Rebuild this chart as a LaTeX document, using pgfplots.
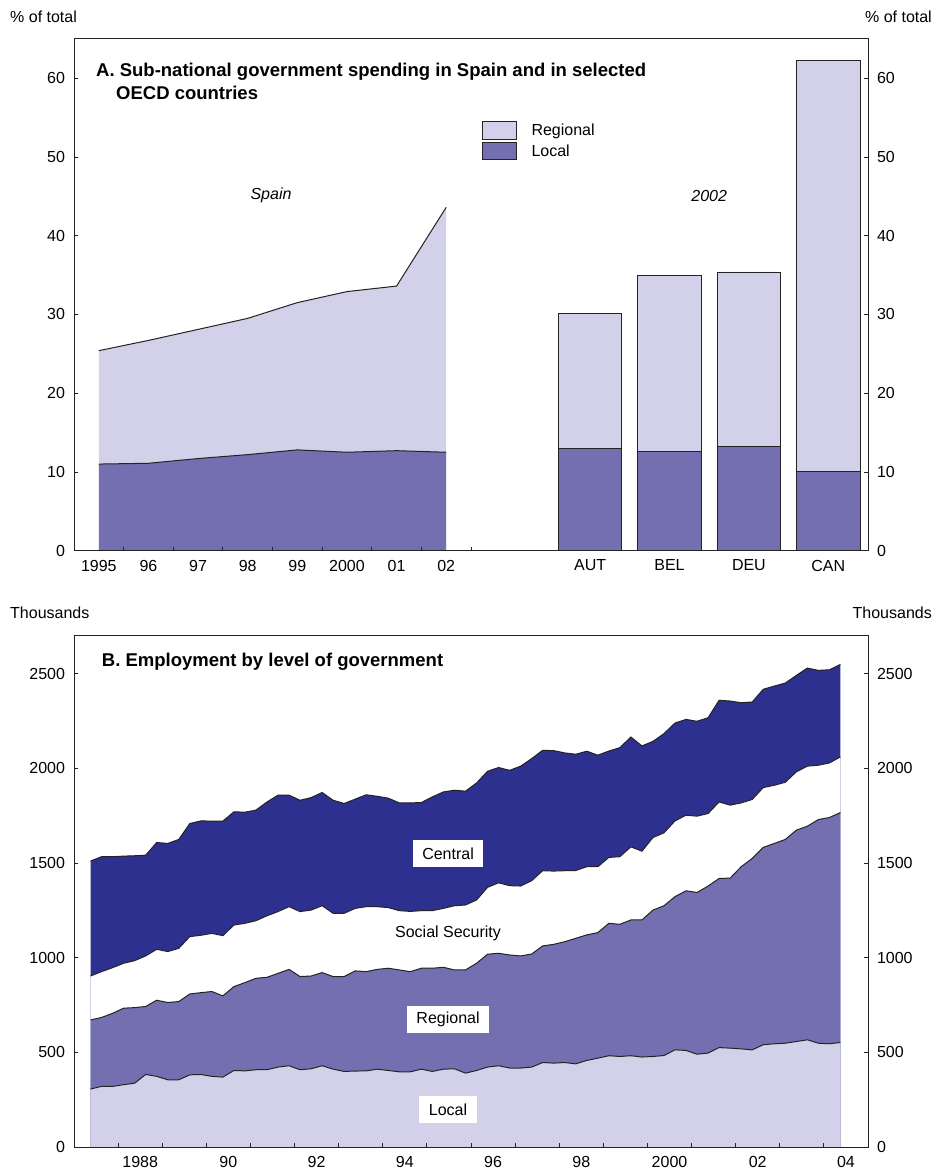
\documentclass[border=0pt]{standalone}
\usepackage{pgfplots}
\pgfplotsset{compat=1.18}
\usepackage{pgfplotstable}
\usepackage{fontspec}
\setmainfont{Liberation Sans}
\definecolor{lav}{RGB}{211,209,233}
\definecolor{purp}{RGB}{116,111,176}
\definecolor{navy}{RGB}{45,48,143}
\definecolor{edge}{RGB}{35,35,35}
\newcommand{\tfont}{\fontsize{16}{19}\selectfont}
\newcommand{\hfont}{\fontsize{18.5}{22}\selectfont\bfseries}

\pgfplotstableread{
x loc tot
0 11.0 25.4
1 11.1 26.7
2 11.7 28.1
3 12.2 29.5
4 12.8 31.5
5 12.5 32.9
6 12.7 33.6
7 12.5 43.6
}\spain

\pgfplotstableread{
x loc tot
9.9 13.0 30.1
11.5 12.6 35.0
13.1 13.2 35.4
14.7 10.1 62.2
}\bars

\pgfplotstableread{
t loc reg ss tot
1987.375 306 671 903 1510
1987.625 320 684 926 1533
1987.875 320 706 947 1533
1988.125 329 733 970 1536
1988.375 337 736 984 1538
1988.625 383 742 1009 1541
1988.875 373 775 1044 1608
1989.125 355 763 1032 1603
1989.375 355 768 1049 1624
1989.625 381 808 1111 1708
1989.875 383 815 1118 1722
1990.125 373 821 1128 1721
1990.375 369 798 1116 1721
1990.625 404 847 1172 1770
1990.875 402 868 1181 1768
1991.125 408 891 1195 1779
1991.375 408 896 1221 1822
1991.625 422 917 1243 1858
1991.875 429 938 1269 1858
1992.125 408 900 1243 1831
1992.375 413 903 1251 1845
1992.625 429 921 1274 1872
1992.875 411 900 1234 1831
1993.125 399 900 1234 1814
1993.375 401 930 1260 1837
1993.625 402 926 1269 1860
1993.875 411 938 1269 1852
1994.125 404 944 1264 1842
1994.375 397 935 1248 1817
1994.625 397 926 1244 1817
1994.875 411 944 1248 1819
1995.125 399 944 1248 1849
1995.375 411 949 1260 1875
1995.625 413 935 1274 1884
1995.875 390 935 1278 1879
1996.125 404 970 1304 1922
1996.375 422 1018 1371 1984
1996.625 429 1023 1395 2004
1996.875 417 1014 1380 1989
1997.125 417 1009 1378 2011
1997.375 422 1019 1406 2051
1997.625 446 1062 1459 2095
1997.875 443 1070 1457 2093
1998.125 446 1084 1459 2081
1998.375 439 1102 1460 2074
1998.625 457 1120 1480 2090
1998.875 469 1132 1480 2069
1999.125 482 1181 1529 2091
1999.375 478 1176 1533 2109
1999.625 482 1199 1585 2165
1999.875 475 1199 1562 2118
2000.125 478 1251 1634 2142
2000.375 483 1274 1659 2183
2000.625 513 1322 1722 2239
2000.875 510 1353 1752 2258
2001.125 490 1344 1747 2248
2001.375 496 1378 1761 2267
2001.625 525 1418 1822 2359
2001.875 522 1420 1805 2355
2002.125 518 1480 1817 2346
2002.375 513 1524 1835 2350
2002.625 540 1582 1898 2417
2002.875 545 1603 1910 2434
2003.125 548 1624 1926 2450
2003.375 557 1673 1981 2490
2003.625 566 1694 2011 2529
2003.875 548 1729 2016 2517
2004.125 545 1740 2028 2520
2004.375 552 1766 2060 2548
}\emp

\pgfplotsset{
  common/.style={
    scale only axis, width=794pt, anchor=south west,
    tick align=inside, major tick length=4pt,
    ticklabel style={font=\tfont},
    axis line style={edge, line width=0.8pt},
    tick style={edge, line width=0.8pt},
  },
}

\begin{document}
\begin{tikzpicture}
\useasboundingbox (0pt,0pt) rectangle (935pt,1173pt);

% ---------------- Panel A ----------------
\begin{axis}[common,
  at={(74pt,622.3pt)}, height=511.9pt,
  xmin=-0.5, xmax=15.5, ymin=0, ymax=65,
  axis on top,
  xtick={0.5,1.5,2.5,3.5,4.5,5.5,6.5,7.5}, xticklabels={}, xtick pos=bottom,
  extra x ticks={0,1,2,3,4,5,6,7,9.9,11.5,13.1,14.7},
  extra x tick labels={1995,96,97,98,99,2000,01,02,AUT,BEL,DEU,CAN},
  extra x tick style={major tick length=0pt},
  ytick={0,10,20,30,40,50,60}, yticklabels={0,10,20,30,40,50,60},
  ytick pos=both, yticklabel pos=left,
  yticklabel style={xshift=-5.5pt},
  xticklabel style={yshift=-5.7pt},
  legend style={at={(rel axis cs:0.5139,0.839)}, anchor=north west,
    draw=none, fill=none, inner sep=0pt, outer sep=0pt,
    font=\tfont, row sep=2.7pt,
    nodes={inner sep=0pt},
    /tikz/every odd column/.append style={column sep=14.7pt}},
  legend cell align=left,
  legend image code/.code={\draw[#1, line width=0.8pt] (0pt,-8.65pt) rectangle (34pt,8.65pt);},
]
\addlegendimage{fill=lav, draw=edge}
\addlegendentry{Regional}
\addlegendimage{fill=purp, draw=edge}
\addlegendentry{Local}

\addplot[fill=lav, draw=none, forget plot] table[x=x,y=tot]{\spain} \closedcycle;
\addplot[fill=purp, draw=none, forget plot] table[x=x,y=loc]{\spain} \closedcycle;
\addplot[edge, line width=1pt, forget plot] table[x=x,y=tot]{\spain};
\addplot[edge, line width=1pt, forget plot] table[x=x,y=loc]{\spain};

\addplot[ybar, bar width=1.28, bar shift=0pt, fill=lav, draw=edge, line width=0.8pt, forget plot] table[x=x,y=tot]{\bars};
\addplot[ybar, bar width=1.28, bar shift=0pt, fill=purp, draw=edge, line width=0.8pt, forget plot] table[x=x,y=loc]{\bars};

\node[font=\tfont\itshape] at (axis cs:3.47,45.1) {Spain};
\node[font=\tfont\itshape] at (axis cs:12.3,45.1) {2002};
\node[anchor=base west, inner sep=0pt, font=\hfont] at (rel axis cs:0.0277,0.927) {A. Sub-national government spending in Spain and in selected};
\node[anchor=base west, inner sep=0pt, font=\hfont] at (rel axis cs:0.0529,0.882) {OECD countries};
\end{axis}

\begin{axis}[common,
  at={(74pt,622.3pt)}, height=511.9pt,
  xmin=-0.5, xmax=15.5, ymin=0, ymax=65,
  xtick=\empty, major tick length=0pt,
  axis line style={draw=none},
  ytick={0,10,20,30,40,50,60}, yticklabels={0,10,20,30,40,50,60},
  yticklabel pos=right,
  yticklabel style={xshift=5.5pt},
]
\addplot[draw=none] coordinates {(0,0)};
\end{axis}

% ---------------- Panel B ----------------
\begin{axis}[common,
  at={(74pt,26pt)}, height=511.3pt,
  xmin=1987, xmax=2005, ymin=0, ymax=2700,
  axis on top,
  xtick={1988,1989,...,2004}, xticklabels={}, xtick pos=bottom,
  extra x ticks={1988.5,1990.5,1992.5,1994.5,1996.5,1998.5,2000.5,2002.5,2004.5},
  extra x tick labels={1988,90,92,94,96,98,2000,02,04},
  extra x tick style={major tick length=0pt},
  ytick={0,500,1000,1500,2000,2500}, yticklabels={0,500,1000,1500,2000,2500},
  ytick pos=both, yticklabel pos=left,
  yticklabel style={xshift=-5.5pt},
  xticklabel style={yshift=-5.7pt},
]
\addplot[fill=navy, draw=none] table[x=t,y=tot]{\emp} \closedcycle;
\addplot[fill=white, draw=none] table[x=t,y=ss]{\emp} \closedcycle;
\addplot[fill=purp, draw=none] table[x=t,y=reg]{\emp} \closedcycle;
\addplot[fill=lav, draw=none] table[x=t,y=loc]{\emp} \closedcycle;
\addplot[edge, line width=1pt] table[x=t,y=tot]{\emp};
\addplot[edge, line width=1pt] table[x=t,y=ss]{\emp};
\addplot[edge, line width=1pt] table[x=t,y=reg]{\emp};
\addplot[edge, line width=1pt] table[x=t,y=loc]{\emp};

\node[fill=white, inner xsep=9.5pt, inner ysep=0pt, minimum height=26.7pt, font=\tfont] at (axis cs:1995.48,1549) {Central};
\node[inner sep=0pt, font=\tfont] at (axis cs:1995.48,1127) {Social Security};
\node[fill=white, inner xsep=9.5pt, inner ysep=0pt, minimum height=26.7pt, font=\tfont] at (axis cs:1995.48,673) {Regional};
\node[fill=white, inner xsep=9.5pt, inner ysep=0pt, minimum height=26.7pt, font=\tfont] at (axis cs:1995.48,198) {Local};
\node[anchor=base west, inner sep=0pt, font=\hfont] at (rel axis cs:0.0349,0.9396) {B. Employment by level of government};
\end{axis}

\begin{axis}[common,
  at={(74pt,26pt)}, height=511.3pt,
  xmin=1987, xmax=2005, ymin=0, ymax=2700,
  xtick=\empty, major tick length=0pt,
  axis line style={draw=none},
  ytick={0,500,1000,1500,2000,2500}, yticklabels={0,500,1000,1500,2000,2500},
  yticklabel pos=right,
  yticklabel style={xshift=5.5pt},
]
\addplot[draw=none] coordinates {(2000,0)};
\end{axis}

% ---------------- outer labels ----------------
\node[anchor=base west, inner sep=0pt, font=\tfont] at (10pt,1150.3pt) {\% of total};
\node[anchor=base east, inner sep=0pt, font=\tfont] at (932pt,1150.3pt) {\% of total};
\node[anchor=base west, inner sep=0pt, font=\tfont] at (10pt,554.3pt) {Thousands};
\node[anchor=base east, inner sep=0pt, font=\tfont] at (932pt,554.3pt) {Thousands};
\end{tikzpicture}
\end{document}
